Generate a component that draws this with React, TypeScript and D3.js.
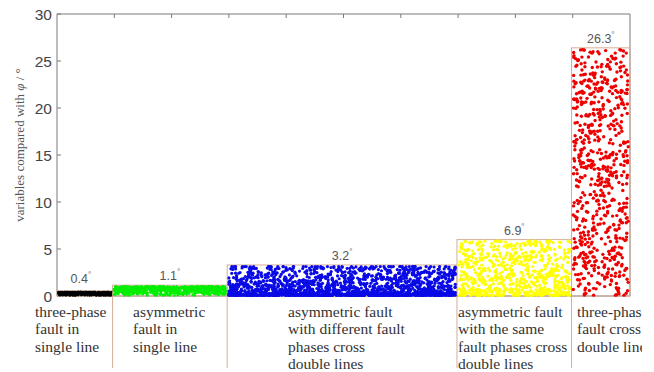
import React from "react";
import * as d3 from "d3";

// ---- data ----
const categories = [
  ["three-phase", "fault in", "single line"],
  ["asymmetric", "fault in", "single line"],
  ["asymmetric fault", "with different fault", "phases cross", "double lines"],
  ["asymmetric fault", "with the same", "fault phases cross", "double lines"],
  ["three-phase", "fault cross", "double lines"],
];
const categoryBounds = [0, 0.97, 2.97, 6.98, 8.98, 10];
const maxValues = [0.4, 1.1, 3.2, 6.9, 26.3];
const boxTops = [0.55, 1.15, 3.3, 6.0, 26.4];
const pointCeil = [0.45, 1.05, 3.3, 6.0, 26.3];
const sampleCounts = [520, 760, 1700, 760, 660];
const densityPower = [0.7, 0.6, 2.1, 1.45, 1.0];
const seriesColors = ["#000000", "#00ee00", "#0a0ae6", "#ffff00", "#ee0000"];
const yTicks = [0, 5, 10, 15, 20, 25, 30];
const xTicks = [1, 2, 3, 4, 5, 6, 7, 8, 9];

// ---- layout ----
const W = 654, H = 372;
const L = 57, R = 630, T = 14, B = 296;
const labelX = [35, 133, 288, 458, 577];
const dotR = [1.1, 1.25, 1.6, 1.55, 1.7];

function hash(n: number) {
  let h = (n * 2654435761) >>> 0;
  h ^= h >>> 15; h = Math.imul(h, 2246822519) >>> 0;
  h ^= h >>> 13; h = Math.imul(h, 3266489917) >>> 0;
  h ^= h >>> 16;
  return (h >>> 0) / 4294967296;
}

export default function App() {
  const x = d3.scaleLinear().domain([0, 10]).range([L, R]);
  const y = d3.scaleLinear().domain([0, 30]).range([B, T]);
  const axisColor = "#7a7a7a";
  const boxColor = "#d6ad98";

  const dots: JSX.Element[] = [];
  categories.forEach((_, ci) => {
    const x0 = x(categoryBounds[ci]) + dotR[ci];
    const x1 = x(categoryBounds[ci + 1]) - dotR[ci];
    for (let i = 0; i < sampleCounts[ci]; i++) {
      const u = hash(ci * 100000 + i * 2 + 1);
      const v = hash(ci * 100000 + i * 2 + 2);
      const val = pointCeil[ci] * Math.pow(v, densityPower[ci]);
      const py = Math.max(y(val), y(boxTops[ci]) + dotR[ci]);
      dots.push(
        <circle key={`${ci}-${i}`} cx={x0 + u * (x1 - x0)} cy={Math.min(py, B - dotR[ci] * 0.5)} r={dotR[ci]} fill={seriesColors[ci]} />
      );
    }
  });

  return (
    <svg width={W} height={H} style={{ position: "absolute", left: 0, top: 0, background: "#fff" }}>
      <defs>
        <clipPath id="labelClip">
          <rect x={0} y={0} width={642} height={H} />
        </clipPath>
      </defs>
      <rect width={W} height={H} fill="#fff" />
      {/* frame */}
      <line x1={L} x2={R} y1={T} y2={T} stroke={axisColor} />
      <line x1={L} x2={L} y1={T} y2={B} stroke={axisColor} />
      <line x1={R} x2={R} y1={T} y2={B} stroke={axisColor} />
      <line x1={L} x2={R} y1={B} y2={B} stroke={axisColor} />
      {xTicks.map((t) => (
        <line key={`xt${t}`} x1={x(t)} x2={x(t)} y1={T} y2={T + 4} stroke={axisColor} />
      ))}
      {yTicks.map((t) => (
        <g key={`yt${t}`}>
          <line x1={L} x2={L + 4} y1={y(t)} y2={y(t)} stroke={axisColor} />
          <text x={L - 5} y={y(t) + 5.5} textAnchor="end" fontFamily="Liberation Sans, Arial, sans-serif" fontSize={15.5} fill="#444">{t}</text>
        </g>
      ))}
      <text transform={`translate(24,${(T + B) / 2 - 10}) rotate(-90)`} textAnchor="middle" fontFamily="Liberation Serif, Times New Roman, serif" fontSize={13} fill="#555">
        variables compared with <tspan fontStyle="italic">φ</tspan> / °
      </text>

      {/* boxes and separators */}
      {categories.map((_, ci) => (
        <g key={`box${ci}`}>
          <rect x={x(categoryBounds[ci])} y={y(boxTops[ci])} width={x(categoryBounds[ci + 1]) - x(categoryBounds[ci])} height={B - y(boxTops[ci])} fill="none" stroke={boxColor} strokeWidth={1} />
          {ci > 0 && <line x1={x(categoryBounds[ci])} x2={x(categoryBounds[ci])} y1={B} y2={368} stroke={boxColor} />}
        </g>
      ))}
      {dots}

      {/* value labels */}
      {maxValues.map((v, ci) => (
        <text key={`v${ci}`} x={(x(categoryBounds[ci]) + x(categoryBounds[ci + 1])) / 2 + (ci === 0 ? -4 : 0)} y={Math.min(y(boxTops[ci]) - 5, 283)} textAnchor="middle" fontFamily="Liberation Sans, Arial, sans-serif" fontSize={12.5} fill="#555">
          {v}<tspan dy={-6} fontSize={8}>°</tspan>
        </text>
      ))}

      {/* category labels */}
      <g clipPath="url(#labelClip)">
        {categories.map((lines, ci) => (
          <text key={`c${ci}`} fontFamily="Liberation Serif, Times New Roman, serif" fontSize={15.5} fill="#333">
            {lines.map((ln, li) => (
              <tspan key={li} x={labelX[ci]} y={317 + li * 17.4}>{ln}</tspan>
            ))}
          </text>
        ))}
      </g>
    </svg>
  );
}
